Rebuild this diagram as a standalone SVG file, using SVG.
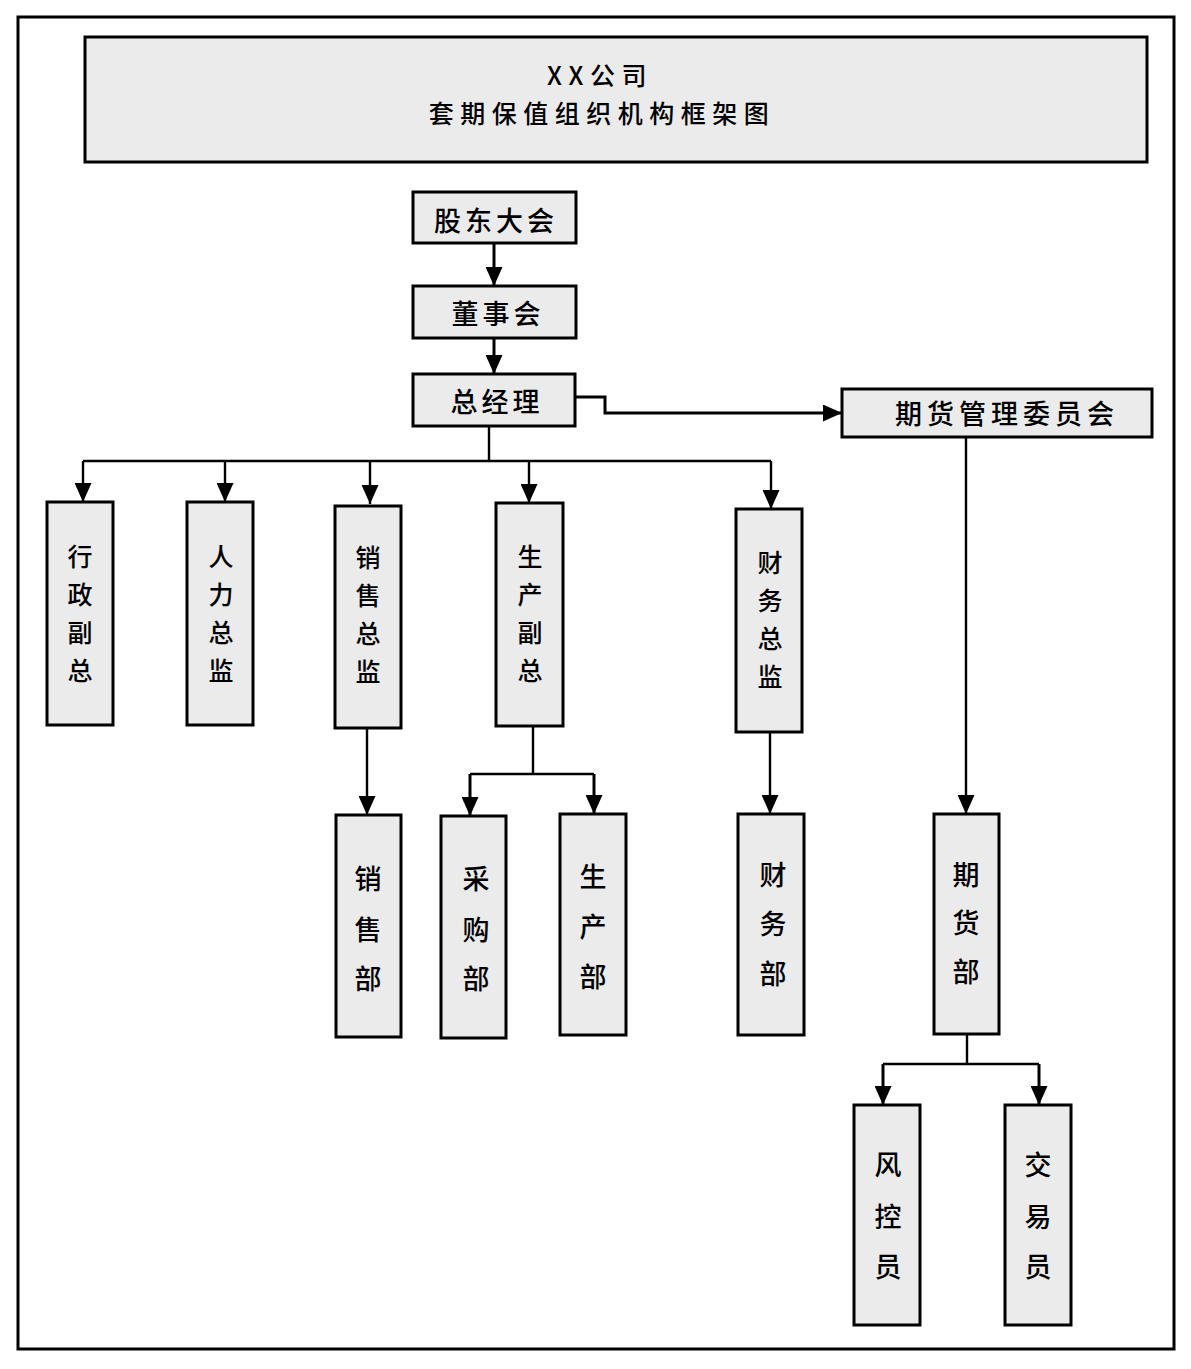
<svg xmlns="http://www.w3.org/2000/svg" width="1191" height="1369" viewBox="0 0 1191 1369">
<defs>
<style>
.box{fill:#ebebeb;stroke:#000;stroke-width:3}
.frame{fill:none;stroke:#000;stroke-width:3}
.ln{fill:none;stroke:#000;stroke-width:2.4}
.lnb{fill:none;stroke:#000;stroke-width:3}
text{font-family:"Noto Sans CJK SC","Noto Sans",sans-serif;fill:#000;text-anchor:middle;dominant-baseline:central;font-weight:500}
.h{font-size:27px;letter-spacing:4px}
.v{font-size:27px}
.v4{font-size:25px}
.t{font-size:25px;letter-spacing:6.5px}
</style>
<marker id="arr" markerUnits="userSpaceOnUse" markerWidth="19" markerHeight="17" viewBox="0 0 19 17" refX="19" refY="8.5" orient="auto">
<path d="M0,0 L19,8.5 L0,17 z" fill="#000"/>
</marker>
</defs>
<rect class="frame" x="18" y="17" width="1156" height="1332"/>

<g id="title">
<rect class="box" x="85" y="37" width="1062" height="125"/>
<text class="t" x="600" y="74">XX公司</text>
<text class="t" x="602" y="112">套期保值组织机构框架图</text>
</g>

<g id="connectors">
<path class="lnb" d="M494,243 V286" marker-end="url(#arr)"/>
<path class="lnb" d="M494,338 V374" marker-end="url(#arr)"/>
<path class="lnb" d="M575,397 H605 V413 H842" marker-end="url(#arr)"/>
<path class="ln" d="M966,437 V814" marker-end="url(#arr)"/>
<path class="ln" d="M489,426 V461 M83,461 H771"/>
<path class="ln" d="M83,461 V502" marker-end="url(#arr)"/>
<path class="ln" d="M225,461 V502" marker-end="url(#arr)"/>
<path class="ln" d="M370,461 V504" marker-end="url(#arr)"/>
<path class="ln" d="M529,461 V503" marker-end="url(#arr)"/>
<path class="ln" d="M771,461 V509" marker-end="url(#arr)"/>
<path class="ln" d="M367,728 V815" marker-end="url(#arr)"/>
<path class="ln" d="M533,726 V774 M470,774 H594"/>
<path class="lnb" d="M470,774 V816" marker-end="url(#arr)"/>
<path class="lnb" d="M594,774 V814" marker-end="url(#arr)"/>
<path class="ln" d="M770,732 V814" marker-end="url(#arr)"/>
<path class="ln" d="M967,1034 V1064 M883,1064 H1039"/>
<path class="lnb" d="M883,1064 V1105" marker-end="url(#arr)"/>
<path class="lnb" d="M1039,1064 V1105" marker-end="url(#arr)"/>
</g>

<g id="gudong">
<rect class="box" x="413" y="192" width="163" height="51"/>
<text class="h" x="496" y="219">股东大会</text>
</g>
<g id="dongshi">
<rect class="box" x="413" y="286" width="163" height="52"/>
<text class="h" x="498" y="312">董事会</text>
</g>
<g id="zongjingli">
<rect class="box" x="413" y="374" width="162" height="52"/>
<text class="h" x="497" y="400">总经理</text>
</g>
<g id="qihuoguanli">
<rect class="box" x="842" y="389" width="310" height="48"/>
<text class="h" style="letter-spacing:5px" x="1007" y="412">期货管理委员会</text>
</g>

<g id="xingzheng">
<rect class="box" x="47" y="502" width="66" height="223"/>
<text class="v4"><tspan x="80" y="555">行</tspan><tspan x="80" y="593">政</tspan><tspan x="80" y="631">副</tspan><tspan x="80" y="669">总</tspan></text>
</g>
<g id="renli">
<rect class="box" x="187" y="502" width="66" height="223"/>
<text class="v4"><tspan x="221" y="555">人</tspan><tspan x="221" y="593">力</tspan><tspan x="221" y="631">总</tspan><tspan x="221" y="669">监</tspan></text>
</g>
<g id="xiaoshouzongjian">
<rect class="box" x="335" y="506" width="66" height="222"/>
<text class="v4"><tspan x="368" y="556">销</tspan><tspan x="368" y="594">售</tspan><tspan x="368" y="632">总</tspan><tspan x="368" y="670">监</tspan></text>
</g>
<g id="shengchanfuzong">
<rect class="box" x="496" y="503" width="67" height="223"/>
<text class="v4"><tspan x="530" y="555">生</tspan><tspan x="530" y="593">产</tspan><tspan x="530" y="631">副</tspan><tspan x="530" y="669">总</tspan></text>
</g>
<g id="caiwuzongjian">
<rect class="box" x="736" y="509" width="66" height="223"/>
<text class="v4"><tspan x="770" y="561">财</tspan><tspan x="770" y="599">务</tspan><tspan x="770" y="637">总</tspan><tspan x="770" y="675">监</tspan></text>
</g>

<g id="xiaoshoubu">
<rect class="box" x="336" y="815" width="65" height="222"/>
<text class="v"><tspan x="368" y="877">销</tspan><tspan x="368" y="928">售</tspan><tspan x="368" y="977">部</tspan></text>
</g>
<g id="caigoubu">
<rect class="box" x="441" y="816" width="65" height="222"/>
<text class="v"><tspan x="476" y="877">采</tspan><tspan x="476" y="928">购</tspan><tspan x="476" y="977">部</tspan></text>
</g>
<g id="shengchanbu">
<rect class="box" x="560" y="814" width="66" height="221"/>
<text class="v"><tspan x="593" y="875">生</tspan><tspan x="593" y="925">产</tspan><tspan x="593" y="975">部</tspan></text>
</g>
<g id="caiwubu">
<rect class="box" x="738" y="814" width="66" height="221"/>
<text class="v"><tspan x="773" y="873">财</tspan><tspan x="773" y="922">务</tspan><tspan x="773" y="972">部</tspan></text>
</g>
<g id="qihuobu">
<rect class="box" x="934" y="814" width="65" height="220"/>
<text class="v"><tspan x="966" y="873">期</tspan><tspan x="966" y="921">货</tspan><tspan x="966" y="970">部</tspan></text>
</g>
<g id="fengkong">
<rect class="box" x="854" y="1105" width="66" height="220"/>
<text class="v"><tspan x="888" y="1163">风</tspan><tspan x="888" y="1215">控</tspan><tspan x="888" y="1265">员</tspan></text>
</g>
<g id="jiaoyi">
<rect class="box" x="1005" y="1105" width="66" height="220"/>
<text class="v"><tspan x="1038" y="1163">交</tspan><tspan x="1038" y="1215">易</tspan><tspan x="1038" y="1265">员</tspan></text>
</g>
</svg>
